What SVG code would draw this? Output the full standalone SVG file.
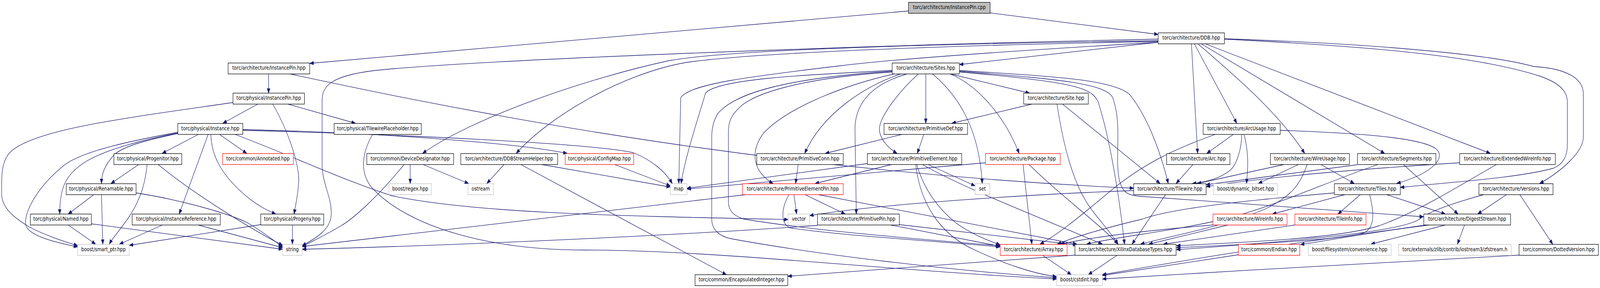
<svg xmlns="http://www.w3.org/2000/svg" width="4903" height="736" viewBox="0 0 4903 736" preserveAspectRatio="none">
<style>
svg{width:100vw;height:100vh}
.n rect{fill:#fff;stroke:#000;stroke-width:1.3}
.n.g rect{stroke:#bfbfbf}
.n.r rect{stroke:#ff0000}
.n.root rect{fill:#bfbfbf}
.n text{font-family:"DejaVu Sans",sans-serif;font-size:13.5px;text-anchor:middle;fill:#000}
#edges path{fill:none;stroke:#191970;stroke-width:1.3;marker-end:url(#a)}
</style>
<defs>
<marker id="a" markerWidth="13" markerHeight="10" refX="12" refY="5" orient="auto" markerUnits="userSpaceOnUse"><path d="M0,0.5 L12,5 L0,9.5 z" fill="#191970" stroke="#191970" stroke-width="1"/></marker>
</defs>
<rect width="4903" height="736" fill="#fff"/>
<g id="edges">
<path d="M2784,28 L949,162"/>
<path d="M3034,33 L3549,88"/>
<path d="M3549,108 L2940,165"/>
<path d="M3549,100 C2800,112 1500,150 1150,180 C1000,195 987,225 987,260 L987,420 C987,470 1018,505 1015,550 C1012,590 960,612 926,628"/>
<path d="M3549,104 C2900,112 2250,125 2050,155 C1800,200 1450,300 1295,392"/>
<path d="M3549,106 C2900,116 2300,135 2100,160 C1900,190 1680,300 1582,392"/>
<path d="M3549,108 C3000,135 2700,155 2576,168 C2300,195 2110,215 2086,250 L2080,469"/>
<path d="M3651,112 L3670,392"/>
<path d="M3660,112 L3790,315"/>
<path d="M3671,112 C3780,190 3920,290 3998,392"/>
<path d="M3681,112 L4243,392"/>
<path d="M3693,112 L4567,392"/>
<path d="M3752,100 C4100,115 4500,135 4720,195 C4790,215 4803,240 4803,260 L4803,370 C4803,400 4790,420 4760,430 C4650,455 4450,465 4291,479"/>
<path d="M3752,99 C4150,110 4550,135 4700,170 C4800,175 4852,200 4852,240 L4852,350 C4852,390 4780,440 4718,469"/>
<path d="M823,189 L823,238"/>
<path d="M889,189 C1500,300 2400,440 3474,481"/>
<path d="M790,266 L683,315"/>
<path d="M882,266 L1089,315"/>
<path d="M836,266 C880,330 920,420 915,470 C912,500 905,530 901,547"/>
<path d="M714,262 C400,300 100,330 30,390 C8,410 5,440 5,470 L5,495 C5,530 40,555 90,580 C140,602 190,615 238,628"/>
<path d="M545,338 C400,360 260,385 200,420 C110,480 78,540 78,570 C78,600 160,618 238,631"/>
<path d="M545,340 C450,355 330,380 265,412 C200,445 183,480 183,547"/>
<path d="M545,341 C440,360 370,375 345,400 C320,425 311,445 311,469"/>
<path d="M609,343 L497,392"/>
<path d="M638,343 L549,547"/>
<path d="M646,343 C648,400 680,450 760,505 C795,528 820,538 845,547"/>
<path d="M672,343 L756,392"/>
<path d="M719,343 C900,400 1050,460 1200,500 C1450,545 1900,552 2415,561"/>
<path d="M744,333 C1200,343 1800,365 1940,390 C2000,410 2040,440 2060,469"/>
<path d="M744,331 C1200,340 1600,368 1738,392"/>
<path d="M1142,343 C1110,390 1100,440 1140,480 C1250,580 1500,640 1800,639 C2200,640 2700,690 3238,713"/>
<path d="M426,420 L340,469"/>
<path d="M451,420 C445,470 430,500 424,510 C400,560 350,600 335,624"/>
<path d="M484,420 C600,500 780,590 866,627"/>
<path d="M417,493 C550,510 700,545 760,570 C810,595 840,615 866,631"/>
<path d="M288,497 L209,547"/>
<path d="M311,497 L315,624"/>
<path d="M209,575 L293,624"/>
<path d="M280,572 L866,637"/>
<path d="M498,575 L366,624"/>
<path d="M607,575 L866,633"/>
<path d="M799,574 L396,627"/>
<path d="M896,575 L896,624"/>
<path d="M1882,420 L2054,475"/>
<path d="M1257,420 L1257,469"/>
<path d="M1295,420 L1436,469"/>
<path d="M1239,420 C1150,510 1080,560 1045,577 C1000,600 960,615 926,630"/>
<path d="M1545,420 L1492,469"/>
<path d="M1595,420 L2226,702"/>
<path d="M1657,420 L2054,478"/>
<path d="M2912,189 L3155,238"/>
<path d="M2837,189 L2837,315"/>
<path d="M2814,189 C2760,230 2690,300 2695,335 C2700,360 2725,380 2749,392"/>
<path d="M2779,189 C2650,220 2620,280 2620,330 L2624,547"/>
<path d="M2858,189 C2930,240 3000,320 3010,469"/>
<path d="M2912,189 C3000,220 3080,300 3123,392"/>
<path d="M2760,189 C2650,220 2520,290 2466,392"/>
<path d="M2740,189 C2600,215 2420,270 2340,340 C2295,390 2310,440 2369,469"/>
<path d="M2734,180 C2500,190 2200,200 2162,238 C2140,300 2100,400 2087,469"/>
<path d="M2734,182 C2400,200 2250,240 2200,290 C2185,310 2181,330 2181,350 L2181,560 C2181,590 2210,605 2240,610 C2500,650 2900,690 3238,710"/>
<path d="M2734,184 C2450,200 2300,240 2260,280 C2235,300 2232,320 2232,340 L2232,515 C2232,540 2250,552 2280,560 C2500,590 2800,610 3065,628"/>
<path d="M2940,180 C3200,195 3400,200 3460,240 C3520,300 3560,400 3580,469"/>
<path d="M2940,182 C3200,200 3390,210 3410,250 C3440,320 3415,400 3430,460 C3440,495 3460,500 3500,502 L4362,554"/>
<path d="M2940,184 C3300,210 3345,225 3365,260 C3400,350 3430,500 3446,624"/>
<path d="M3162,266 L2917,315"/>
<path d="M3256,266 L3555,469"/>
<path d="M3239,266 C3260,380 3290,470 3340,530 C3380,575 3410,600 3426,624"/>
<path d="M2831,343 L2811,392"/>
<path d="M2766,343 L2529,392"/>
<path d="M2446,420 L2438,469"/>
<path d="M2734,420 L2498,469"/>
<path d="M2658,418 L2105,481"/>
<path d="M2843,420 L2988,475"/>
<path d="M2809,420 C2830,480 2870,530 2930,570 C2980,600 3030,615 3065,626"/>
<path d="M2826,420 C2950,480 3200,560 3378,624"/>
<path d="M2806,420 C2820,520 2880,600 2990,640 C3080,675 3170,700 3238,707"/>
<path d="M3135,420 L3162,624"/>
<path d="M3153,420 C3250,500 3380,580 3426,624"/>
<path d="M3020,416 L2105,483"/>
<path d="M2290,497 L926,630"/>
<path d="M2433,497 L2441,547"/>
<path d="M2466,497 L2590,547"/>
<path d="M2505,497 L3300,624"/>
<path d="M2418,497 C2395,530 2390,570 2420,582 C2550,600 2850,615 3065,631"/>
<path d="M2505,576 C2200,595 1500,625 926,637"/>
<path d="M2729,575 L3063,629"/>
<path d="M2756,574 L3300,626"/>
<path d="M3572,497 L3469,624"/>
<path d="M3474,487 C3200,495 2700,520 2481,551"/>
<path d="M3656,420 L3604,469"/>
<path d="M3780,343 L3698,392"/>
<path d="M3805,343 C3805,380 3790,420 3770,435 C3740,455 3700,465 3654,469"/>
<path d="M3812,343 C3830,400 3822,440 3820,469"/>
<path d="M3726,343 C3600,380 3500,420 3400,490 C3300,560 3240,600 3187,624"/>
<path d="M3923,333 C4150,340 4350,350 4400,380 C4430,400 4400,440 4280,469"/>
<path d="M3937,420 L3669,469"/>
<path d="M4159,421 L3696,472"/>
<path d="M4473,416 C4200,430 3900,450 3696,477"/>
<path d="M3980,420 L3856,469"/>
<path d="M4047,420 L4150,469"/>
<path d="M4006,420 C3985,470 3960,500 3880,533 C3750,580 3600,600 3495,624"/>
<path d="M4300,420 L4468,547"/>
<path d="M4224,420 C4050,470 3900,530 3750,560 C3600,590 3420,605 3330,624"/>
<path d="M4587,420 C4480,470 4350,540 4226,577 C4100,610 3800,620 3605,628"/>
<path d="M4123,497 L3899,547"/>
<path d="M4169,497 L4100,547"/>
<path d="M4248,497 L4429,547"/>
<path d="M4197,497 C4210,540 4215,580 4180,595 C4100,615 3800,625 3605,633"/>
<path d="M4089,493 C3850,510 3600,530 3500,560 C3350,590 3280,610 3240,624"/>
<path d="M4617,497 L4528,547"/>
<path d="M4657,497 L4758,624"/>
<path d="M4548,497 C4450,520 4380,540 4350,560 C4300,590 4000,615 3605,638"/>
<path d="M4429,575 L4201,624"/>
<path d="M4488,575 L4466,624"/>
<path d="M4370,575 C4200,595 4100,610 3985,625"/>
<path d="M4380,575 C4000,615 3700,655 3378,702"/>
<path d="M3763,575 L3520,624"/>
<path d="M3717,575 C3500,590 3350,605 3250,624"/>
<path d="M3968,575 L3565,624"/>
<path d="M3795,651 L3378,704"/>
<path d="M4655,652 C4300,670 3800,690 3378,713"/>
<path d="M3194,652 L3283,702"/>
<path d="M3424,652 L3335,702"/>
<path d="M3294,652 L2414,706"/>
</g>
<g id="cpp" class="n root"><rect x="2784" y="6" width="250" height="28"/><text x="2909" y="23.5">torc/architecture/InstancePin.cpp</text></g>
<g id="ddb" class="n"><rect x="3549" y="84" width="203" height="28"/><text x="3650.5" y="101.5">torc/architecture/DDB.hpp</text></g>
<g id="aip" class="n"><rect x="699" y="161" width="250" height="28"/><text x="824" y="178.5">torc/architecture/InstancePin.hpp</text></g>
<g id="sites" class="n"><rect x="2734" y="161" width="206" height="28"/><text x="2837" y="178.5">torc/architecture/Sites.hpp</text></g>
<g id="pip" class="n"><rect x="714" y="238" width="219" height="28"/><text x="823.5" y="255.5">torc/physical/InstancePin.hpp</text></g>
<g id="site" class="n"><rect x="3137" y="238" width="198" height="28"/><text x="3236" y="255.5">torc/architecture/Site.hpp</text></g>
<g id="inst" class="n"><rect x="545" y="315.5" width="199" height="28"/><text x="644.5" y="333">torc/physical/Instance.hpp</text></g>
<g id="twp" class="n"><rect x="1024" y="315.5" width="267" height="28"/><text x="1157.5" y="333">torc/physical/TilewirePlaceholder.hpp</text></g>
<g id="pdef" class="n"><rect x="2709" y="315.5" width="256" height="28"/><text x="2837" y="333">torc/architecture/PrimitiveDef.hpp</text></g>
<g id="arcu" class="n"><rect x="3687" y="315.5" width="236" height="28"/><text x="3805" y="333">torc/architecture/ArcUsage.hpp</text></g>
<g id="prog" class="n"><rect x="349" y="392.5" width="208" height="28"/><text x="453" y="410">torc/physical/Progenitor.hpp</text></g>
<g id="annot" class="n r"><rect x="682" y="392.5" width="217" height="28"/><text x="790.5" y="410">torc/common/Annotated.hpp</text></g>
<g id="devd" class="n"><rect x="1124" y="392.5" width="266" height="28"/><text x="1257" y="410">torc/common/DeviceDesignator.hpp</text></g>
<g id="dsh" class="n"><rect x="1412" y="392.5" width="297" height="28"/><text x="1560.5" y="410">torc/architecture/DDBStreamHelper.hpp</text></g>
<g id="cfg" class="n r"><rect x="1732" y="392.5" width="210" height="28"/><text x="1837" y="410">torc/physical/ConfigMap.hpp</text></g>
<g id="pconn" class="n"><rect x="2319" y="392.5" width="265" height="28"/><text x="2451.5" y="410">torc/architecture/PrimitiveConn.hpp</text></g>
<g id="pelem" class="n"><rect x="2658" y="392.5" width="289" height="28"/><text x="2802.5" y="410">torc/architecture/PrimitiveElement.hpp</text></g>
<g id="pkg" class="n r"><rect x="3020" y="392.5" width="229" height="28"/><text x="3134.5" y="410">torc/architecture/Package.hpp</text></g>
<g id="arc" class="n"><rect x="3575" y="392.5" width="194" height="28"/><text x="3672" y="410">torc/architecture/Arc.hpp</text></g>
<g id="wu" class="n"><rect x="3893" y="392.5" width="242" height="28"/><text x="4014" y="410">torc/architecture/WireUsage.hpp</text></g>
<g id="seg" class="n"><rect x="4160" y="392.5" width="240" height="28"/><text x="4280" y="410">torc/architecture/Segments.hpp</text></g>
<g id="ewi" class="n"><rect x="4473" y="392.5" width="293" height="28"/><text x="4619.5" y="410">torc/architecture/ExtendedWireInfo.hpp</text></g>
<g id="ren" class="n"><rect x="203" y="469.5" width="214" height="28"/><text x="310" y="487">torc/physical/Renamable.hpp</text></g>
<g id="regex" class="n g"><rect x="1192" y="469.5" width="130" height="28"/><text x="1257" y="487">boost/regex.hpp</text></g>
<g id="ostream" class="n g"><rect x="1434" y="469.5" width="78" height="28"/><text x="1473" y="487">ostream</text></g>
<g id="map" class="n g"><rect x="2054" y="469.5" width="51" height="28"/><text x="2079.5" y="487">map</text></g>
<g id="pep" class="n r"><rect x="2275" y="469.5" width="309" height="28"/><text x="2429.5" y="487">torc/architecture/PrimitiveElementPin.hpp</text></g>
<g id="set" class="n g"><rect x="2988" y="469.5" width="45" height="28"/><text x="3010.5" y="487">set</text></g>
<g id="tw" class="n"><rect x="3474" y="469.5" width="222" height="28"/><text x="3585" y="487">torc/architecture/Tilewire.hpp</text></g>
<g id="dbit" class="n g"><rect x="3719" y="469.5" width="196" height="28"/><text x="3817" y="487">boost/dynamic_bitset.hpp</text></g>
<g id="tiles" class="n"><rect x="4089" y="469.5" width="202" height="28"/><text x="4190" y="487">torc/architecture/Tiles.hpp</text></g>
<g id="ver" class="n"><rect x="4532" y="469.5" width="227" height="28"/><text x="4645.5" y="487">torc/architecture/Versions.hpp</text></g>
<g id="named" class="n"><rect x="93" y="547" width="187" height="28"/><text x="186.5" y="564.5">torc/physical/Named.hpp</text></g>
<g id="iref" class="n"><rect x="405" y="547" width="270" height="28"/><text x="540" y="564.5">torc/physical/InstanceReference.hpp</text></g>
<g id="progeny" class="n"><rect x="799" y="547" width="193" height="28"/><text x="895.5" y="564.5">torc/physical/Progeny.hpp</text></g>
<g id="vector" class="n g"><rect x="2415" y="547" width="66" height="28"/><text x="2448" y="564.5">vector</text></g>
<g id="ppin" class="n"><rect x="2505" y="547" width="251" height="28"/><text x="2630.5" y="564.5">torc/architecture/PrimitivePin.hpp</text></g>
<g id="winfo" class="n r"><rect x="3717" y="547" width="227" height="28"/><text x="3830.5" y="564.5">torc/architecture/WireInfo.hpp</text></g>
<g id="tinfo" class="n r"><rect x="3968" y="547" width="218" height="28"/><text x="4077" y="564.5">torc/architecture/TileInfo.hpp</text></g>
<g id="dstream" class="n"><rect x="4363" y="547" width="266" height="28"/><text x="4496" y="564.5">torc/architecture/DigestStream.hpp</text></g>
<g id="sptr" class="n g"><rect x="238" y="624.5" width="158" height="28"/><text x="317" y="642">boost/smart_ptr.hpp</text></g>
<g id="string" class="n g"><rect x="866" y="624.5" width="60" height="28"/><text x="896" y="642">string</text></g>
<g id="array" class="n r"><rect x="3065" y="624.5" width="205" height="28"/><text x="3167.5" y="642">torc/architecture/Array.hpp</text></g>
<g id="xdt" class="n"><rect x="3294" y="624.5" width="310" height="28"/><text x="3449" y="642">torc/architecture/XilinxDatabaseTypes.hpp</text></g>
<g id="endian" class="n r"><rect x="3795" y="624.5" width="188" height="28"/><text x="3889" y="642">torc/common/Endian.hpp</text></g>
<g id="fsconv" class="n g"><rect x="4009" y="624.5" width="254" height="28"/><text x="4136" y="642">boost/filesystem/convenience.hpp</text></g>
<g id="zfs" class="n g"><rect x="4286" y="624.5" width="345" height="28"/><text x="4458.5" y="642">torc/externals/zlib/contrib/iostream3/zfstream.h</text></g>
<g id="dver" class="n"><rect x="4655" y="624.5" width="243" height="28"/><text x="4776.5" y="642">torc/common/DottedVersion.hpp</text></g>
<g id="enc" class="n"><rect x="2130" y="702" width="284" height="28"/><text x="2272" y="719.5">torc/common/EncapsulatedInteger.hpp</text></g>
<g id="cstdint" class="n g"><rect x="3238" y="702" width="140" height="28"/><text x="3308" y="719.5">boost/cstdint.hpp</text></g>
</svg>
